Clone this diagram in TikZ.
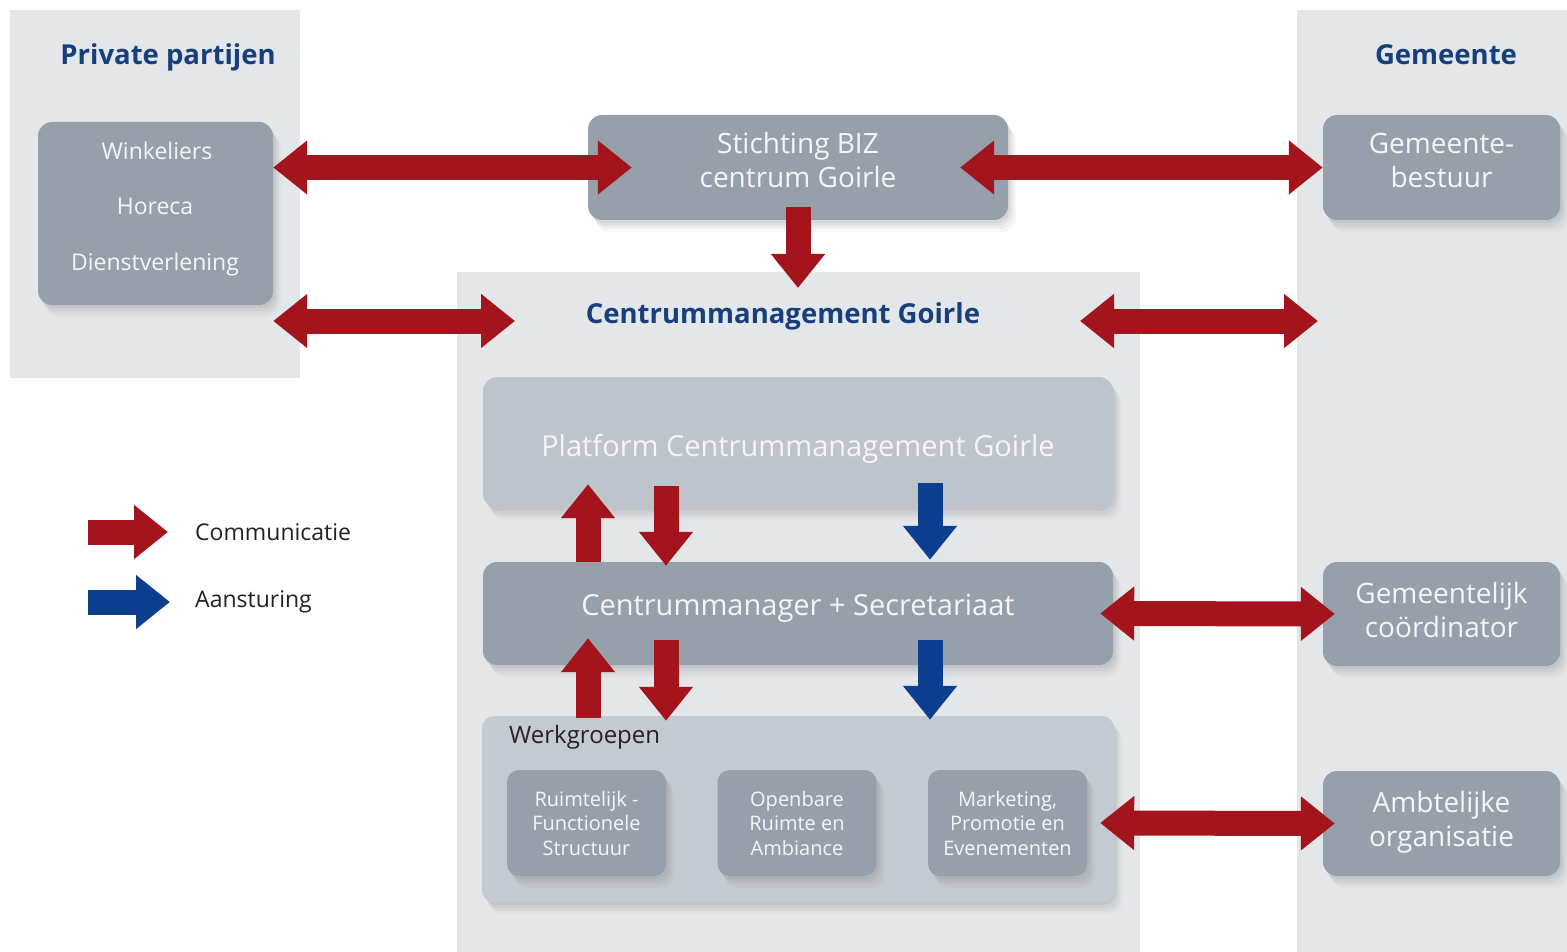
\documentclass[tikz,border=0pt]{standalone}
\usepackage{fontspec}
\setmainfont{Open Sans}
\usetikzlibrary{arrows.meta,shadows,calc}
\definecolor{panel}{HTML}{E4E7EA}
\definecolor{boxg}{HTML}{96A0AB}
\definecolor{boxl}{HTML}{BEC4CB}
\definecolor{werkc}{HTML}{C4CAD1}
\definecolor{titleblue}{HTML}{173F7C}
\definecolor{commred}{HTML}{A3141C}
\definecolor{steerblue}{HTML}{0C3F90}
\definecolor{txtw}{HTML}{F4F5F7}
\definecolor{darktxt}{HTML}{222222}
\tikzset{
  soft shadow/.style={
    drop shadow={opacity=0.10, shadow xshift=2pt, shadow yshift=-3pt},
    drop shadow={opacity=0.10, shadow xshift=4pt, shadow yshift=-6pt},
    drop shadow={opacity=0.08, shadow xshift=6pt, shadow yshift=-9pt},
    drop shadow={opacity=0.06, shadow xshift=8pt, shadow yshift=-12pt}},
  shade box/.style={rounded corners=14pt, inner sep=0pt, soft shadow},
  box/.style={shade box, fill=boxg},
  boxtxt/.style={text=txtw, align=center, inner sep=0pt, font=\fontsize{28}{34}\selectfont},
  widetxt/.style={boxtxt, font=\fontsize{29}{34}\selectfont},
  subbox/.style={shade box, fill=boxg, text=txtw, align=center, rounded corners=12pt,
    minimum width=159pt, minimum height=106pt, font=\fontsize{20}{24.5}\selectfont},
  title/.style={text=titleblue, font=\bfseries\fontsize{27.5}{30}\selectfont, inner sep=0pt},
  listtxt/.style={text=txtw, font=\fontsize{23}{26}\selectfont, inner sep=0pt, anchor=base},
  legtxt/.style={text=darktxt, font=\fontsize{23}{26}\selectfont, inner sep=0pt, anchor=west},
  comm/.style={draw=commred, line width=25pt, -{Triangle[width=52pt,length=34pt]}},
  commboth/.style={draw=commred, line width=25pt, {Triangle[width=52pt,length=34pt]}-{Triangle[width=52pt,length=34pt]}},
  steer/.style={draw=steerblue, line width=25pt, -{Triangle[width=52pt,length=34pt]}},
}
\begin{document}
\begin{tikzpicture}[x=1pt,y=-1pt]
\useasboundingbox (0,0) rectangle (1567,952);
\fill[white] (0,0) rectangle (1567,952);
% background panels
\fill[panel] (10,10) rectangle (300,378);
\fill[panel] (1297,10) rectangle (1567,952);
\fill[panel] (457,272) rectangle (1140,952);

% titles
\node[title] (priv) at (168,57) {Private partijen};
\node[title] (gem) at (1446,55) {Gemeente};
\node[title] (cmtitle) at (783,316) {Centrummanagement Goirle};

% boxes
\node[box, minimum width=235pt, minimum height=183pt] (wink) at (155.5,213.5) {};
\node[listtxt] (w1) at (157,160) {Winkeliers};
\node[listtxt] (w2) at (155,215) {Horeca};
\node[listtxt] (w3) at (155,271) {Dienstverlening};

\node[box, minimum width=420pt, minimum height=105pt] (stich) at (798,167.5) {};
\node[boxtxt] (stichtxt) at (798,160) {Stichting BIZ\\centrum Goirle};
\node[box, minimum width=237pt, minimum height=105pt] (gbest) at (1441.5,167.5) {};
\node[boxtxt] (gbesttxt) at (1441.5,160) {Gemeente-\\bestuur};

\node[box, fill=boxl, minimum width=630pt, minimum height=131pt] (platform) at (798,442.5) {};
\node[widetxt] (platformtxt) at (798,449) {Platform Centrummanagement Goirle};
\node[box, minimum width=630pt, minimum height=103pt] (cms) at (798,613.5) {};
\node[widetxt] (cmstxt) at (798,608) {Centrummanager + Secretariaat};
\node[box, fill=werkc, rounded corners=12pt, minimum width=632pt, minimum height=186pt] (werk) at (798,809) {};
\node[text=darktxt, font=\fontsize{24}{26}\selectfont, inner sep=0pt, anchor=west] (werklbl) at (509,737) {Werkgroepen};
\node[subbox] (r1) at (586.5,823) {Ruimtelijk -\\Functionele\\Structuur};
\node[subbox] (r2) at (797,823) {Openbare\\Ruimte en\\Ambiance};
\node[subbox] (r3) at (1007.5,823) {Marketing,\\Promotie en\\Evenementen};

\node[box, minimum width=237pt, minimum height=104pt] (gcoord) at (1441.5,614) {};
\node[boxtxt] (gcoordtxt) at (1441.5,609.5) {Gemeentelijk\\coördinator};
\node[box, minimum width=237pt, minimum height=105pt] (ambt) at (1441.5,823.5) {};
\node[boxtxt] (ambttxt) at (1441.5,822) {Ambtelijke\\organisatie};

% free ends
\coordinate (cmin) at (798,288);
\coordinate (cmL) at (515,321);
\coordinate (cmR) at (1080,321);
\coordinate (gmR) at (1318,321);

% connectors
\draw[commboth] (wink.east |- stich.west) -- ([xshift=44pt]stich.west);
\draw[commboth] ([xshift=-48pt]stich.east) -- (gbest.west);
\draw[comm] ([yshift=13pt]stich.south) -- (cmin);
\draw[commboth] (wink.east |- cmL) -- (cmL);
\draw[commboth] (cmR) -- (gmR);

\draw[comm] ([xshift=-210pt]cms.north) -- ([xshift=-210pt,yshift=24pt]platform.south);
\draw[comm] ([xshift=-132pt,yshift=22pt]platform.south) -- ([xshift=-132pt,yshift=-4pt]cms.north);
\draw[steer] ([xshift=132pt,yshift=25pt]platform.south) -- ([xshift=132pt,yshift=2pt]cms.north);

\draw[comm] ([xshift=-210pt,yshift=-2pt]werk.north) -- ([xshift=-210pt,yshift=27pt]cms.south);
\draw[comm] ([xshift=-132pt,yshift=25pt]cms.south) -- ([xshift=-132pt,yshift=-5pt]werk.north);
\draw[steer] ([xshift=132pt,yshift=25pt]cms.south) -- ([xshift=132pt,yshift=-4pt]werk.north);

\draw[commboth] ([xshift=-13pt]cms.east) -- ([xshift=12pt]gcoord.west);
\draw[commboth] ([xshift=13pt]r3.east) -- ([xshift=12pt]ambt.west);

% legend
\node[legtxt] (lc) at (195,532) {Communicatie};
\node[legtxt] (la) at (195,602) {Aansturing};
\draw[comm] ([xshift=-107pt]lc.west) -- ([xshift=-27pt]lc.west);
\draw[steer] ([xshift=-107pt]la.west) -- ([xshift=-25pt]la.west);
\end{tikzpicture}
\end{document}
